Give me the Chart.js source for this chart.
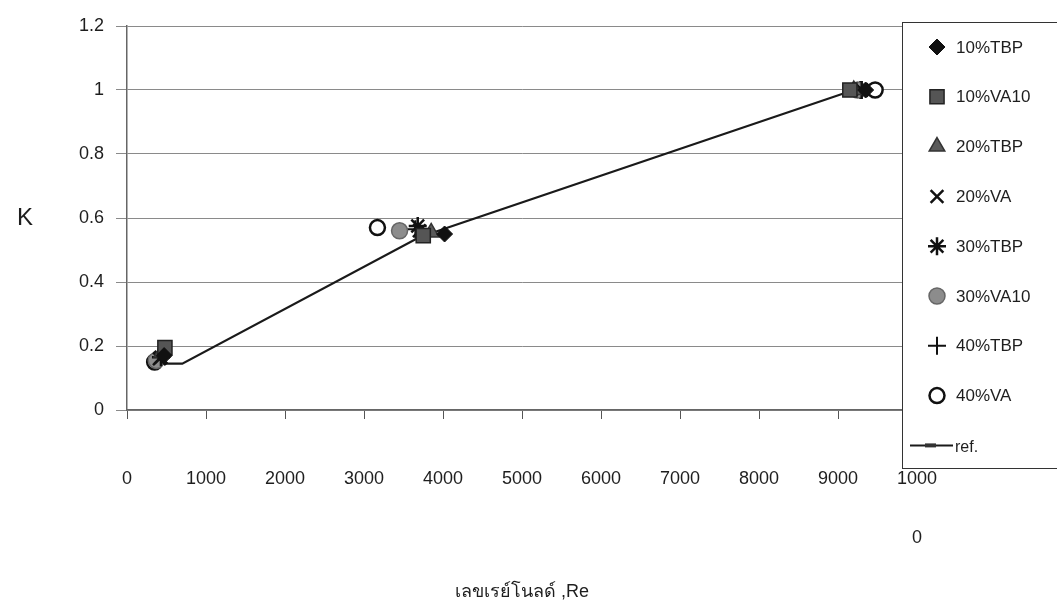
<!DOCTYPE html>
<html>
<head>
<meta charset="utf-8">
<script src="https://cdn.jsdelivr.net/npm/chart.js@4.4.1/dist/chart.umd.min.js"></script>
<style>
  html, body { margin: 0; padding: 0; background: #fff; }
  #wrap { width: 1057px; height: 610px; position: relative; }
</style>
</head>
<body>
<div id="wrap"><canvas id="kChart"></canvas></div>
<script>
// data: [Re, K]
const seriesNames = ["10%TBP", "10%VA10", "20%TBP", "20%VA", "30%TBP", "30%VA10", "40%TBP", "40%VA"];
const tbp10 = [[470, 0.17], [4020, 0.55], [9350, 1.0]];
const va10 = [[480, 0.195], [3750, 0.545], [9150, 1.0]];
const tbp20 = [[440, 0.18], [3850, 0.555], [9200, 1.0]];
const va20 = [[410, 0.16], [3700, 0.56], [9300, 1.0]];
const tbp30 = [[430, 0.165], [3680, 0.575], [9300, 1.0]];
const va30 = [[370, 0.155], [3450, 0.56], [9250, 1.0]];
const tbp40 = [[400, 0.165], [3650, 0.565], [9280, 1.0]];
const va40 = [[350, 0.15], [3170, 0.57], [9470, 1.0]];
const refLine = [[450, 0.145], [700, 0.145], [3700, 0.54], [9200, 1.0]];

const xTicks = [0, 1000, 2000, 3000, 4000, 5000, 6000, 7000, 8000, 9000, 10000];
const yTicks = [0, 0.2, 0.4, 0.6, 0.8, 1, 1.2];

const allSeries = [tbp10, va10, tbp20, va20, tbp30, va30, tbp40, va40];

// marker look for each series
const markerStyles = [
  { pointStyle: "rectRot", radius: 8, bg: "#111", border: "#111", bw: 1 },
  { pointStyle: "rect", radius: 10, bg: "#555", border: "#222", bw: 1.5 },
  { pointStyle: "triangle", radius: 9, bg: "#5a5a5a", border: "#333", bw: 1.5 },
  { pointStyle: "crossRot", radius: 9, bg: "#111", border: "#111", bw: 2.5 },
  { pointStyle: "star", radius: 9, bg: "#111", border: "#111", bw: 2.5 },
  { pointStyle: "circle", radius: 8, bg: "#8c8c8c", border: "#666", bw: 1.5 },
  { pointStyle: "cross", radius: 9, bg: "#111", border: "#111", bw: 2 },
  { pointStyle: "circle", radius: 7.5, bg: "#fff", border: "#111", bw: 2.5 },
];

const fontFam = "'Liberation Sans', Arial, sans-serif";
const textColor = "#1e1e1e";

const toPts = (arr) => arr.map((p) => ({ x: p[0], y: p[1] }));

const datasets = allSeries.map((s, i) => ({
  label: seriesNames[i],
  data: toPts(s),
  pointStyle: markerStyles[i].pointStyle,
  pointRadius: markerStyles[i].radius,
  pointBackgroundColor: markerStyles[i].bg,
  pointBorderColor: markerStyles[i].border,
  pointBorderWidth: markerStyles[i].bw,
  showLine: false,
}));

datasets.push({
  label: "ref.",
  data: toPts(refLine),
  showLine: true,
  borderColor: "#1a1a1a",
  borderWidth: 2.2,
  pointRadius: 0,
  order: 10,
});

// extra bits: wrapped "0" of the 10000 label, the K title, and the legend box
const extrasPlugin = {
  id: "extras",
  afterDraw(chart) {
    const ctx = chart.ctx;
    const xs = chart.scales.x;
    const area = chart.chartArea;
    ctx.save();
    ctx.fillStyle = textColor;
    ctx.font = "18px " + fontFam;
    ctx.textAlign = "center";
    ctx.textBaseline = "middle";
    ctx.fillText("0", xs.getPixelForValue(10000), xs.top + 128);

    ctx.font = "24px " + fontFam;
    ctx.fillText("K", 25, (area.top + area.bottom) / 2);

    // legend
    const lx = 902, ly = 22, lw = 170, lh = 446;
    ctx.fillStyle = "#fff";
    ctx.fillRect(lx, ly, lw, lh);
    ctx.strokeStyle = "#333";
    ctx.lineWidth = 1;
    ctx.strokeRect(lx + 0.5, ly + 0.5, lw, lh);

    const rowGap = 49.8;
    ctx.font = "17px " + fontFam;
    ctx.textAlign = "left";
    seriesNames.forEach((name, i) => {
      const y = ly + 25 + i * rowGap;
      const st = markerStyles[i];
      ctx.fillStyle = st.bg;
      ctx.strokeStyle = st.border;
      ctx.lineWidth = st.bw;
      Chart.helpers.drawPoint(ctx, { pointStyle: st.pointStyle, radius: st.radius, rotation: 0, borderWidth: st.bw }, 937, y);
      ctx.fillStyle = textColor;
      ctx.fillText(name, 956, y + 1);
    });
    const ry = ly + 25 + 8 * rowGap;
    ctx.strokeStyle = "#1a1a1a";
    ctx.lineWidth = 2;
    ctx.beginPath();
    ctx.moveTo(910, ry);
    ctx.lineTo(953, ry);
    ctx.stroke();
    ctx.fillStyle = "#333";
    ctx.fillRect(925, ry - 2, 11, 4);
    ctx.fillStyle = textColor;
    ctx.font = "16px " + fontFam;
    ctx.fillText("ref.", 955, ry + 2);
    ctx.restore();
  },
};

new Chart(document.getElementById("kChart"), {
  type: "scatter",
  data: { datasets },
  options: {
    responsive: true,
    maintainAspectRatio: false,
    animation: false,
    layout: { padding: { left: 0, top: 26, right: 140, bottom: 0 } },
    plugins: {
      legend: { display: false },
      tooltip: { enabled: false },
    },
    scales: {
      x: {
        type: "linear",
        min: 0,
        max: 10000,
        afterBuildTicks: (scale) => {
          scale.ticks = xTicks.map((v) => ({ value: v }));
        },
        afterFit: (scale) => {
          scale.height = 200;
        },
        ticks: {
          color: textColor,
          font: { size: 18, family: fontFam },
          padding: 49,
          maxRotation: 0,
          autoSkip: false,
          callback: (v) => (v === 10000 ? "1000" : String(v)),
        },
        grid: {
          drawOnChartArea: false,
          drawTicks: true,
          tickLength: 9,
          color: "#555",
        },
        border: { color: "#666", width: 1.5 },
        title: {
          display: true,
          text: "เลขเรย์โนลด์ ,Re",
          color: textColor,
          font: { size: 18, family: fontFam },
          padding: { top: 0, bottom: 7 },
        },
      },
      y: {
        min: 0,
        max: 1.2,
        afterBuildTicks: (scale) => {
          scale.ticks = yTicks.map((v) => ({ value: v }));
        },
        afterFit: (scale) => {
          scale.width = 127;
        },
        ticks: {
          color: textColor,
          font: { size: 18, family: fontFam },
          padding: 12,
          callback: (v) => String(Math.round(v * 10) / 10),
        },
        grid: {
          color: "#8a8a8a",
          lineWidth: 1,
          tickLength: 11,
        },
        border: { color: "#666", width: 1.5 },
      },
    },
  },
  plugins: [extrasPlugin],
});
</script>
</body>
</html>
